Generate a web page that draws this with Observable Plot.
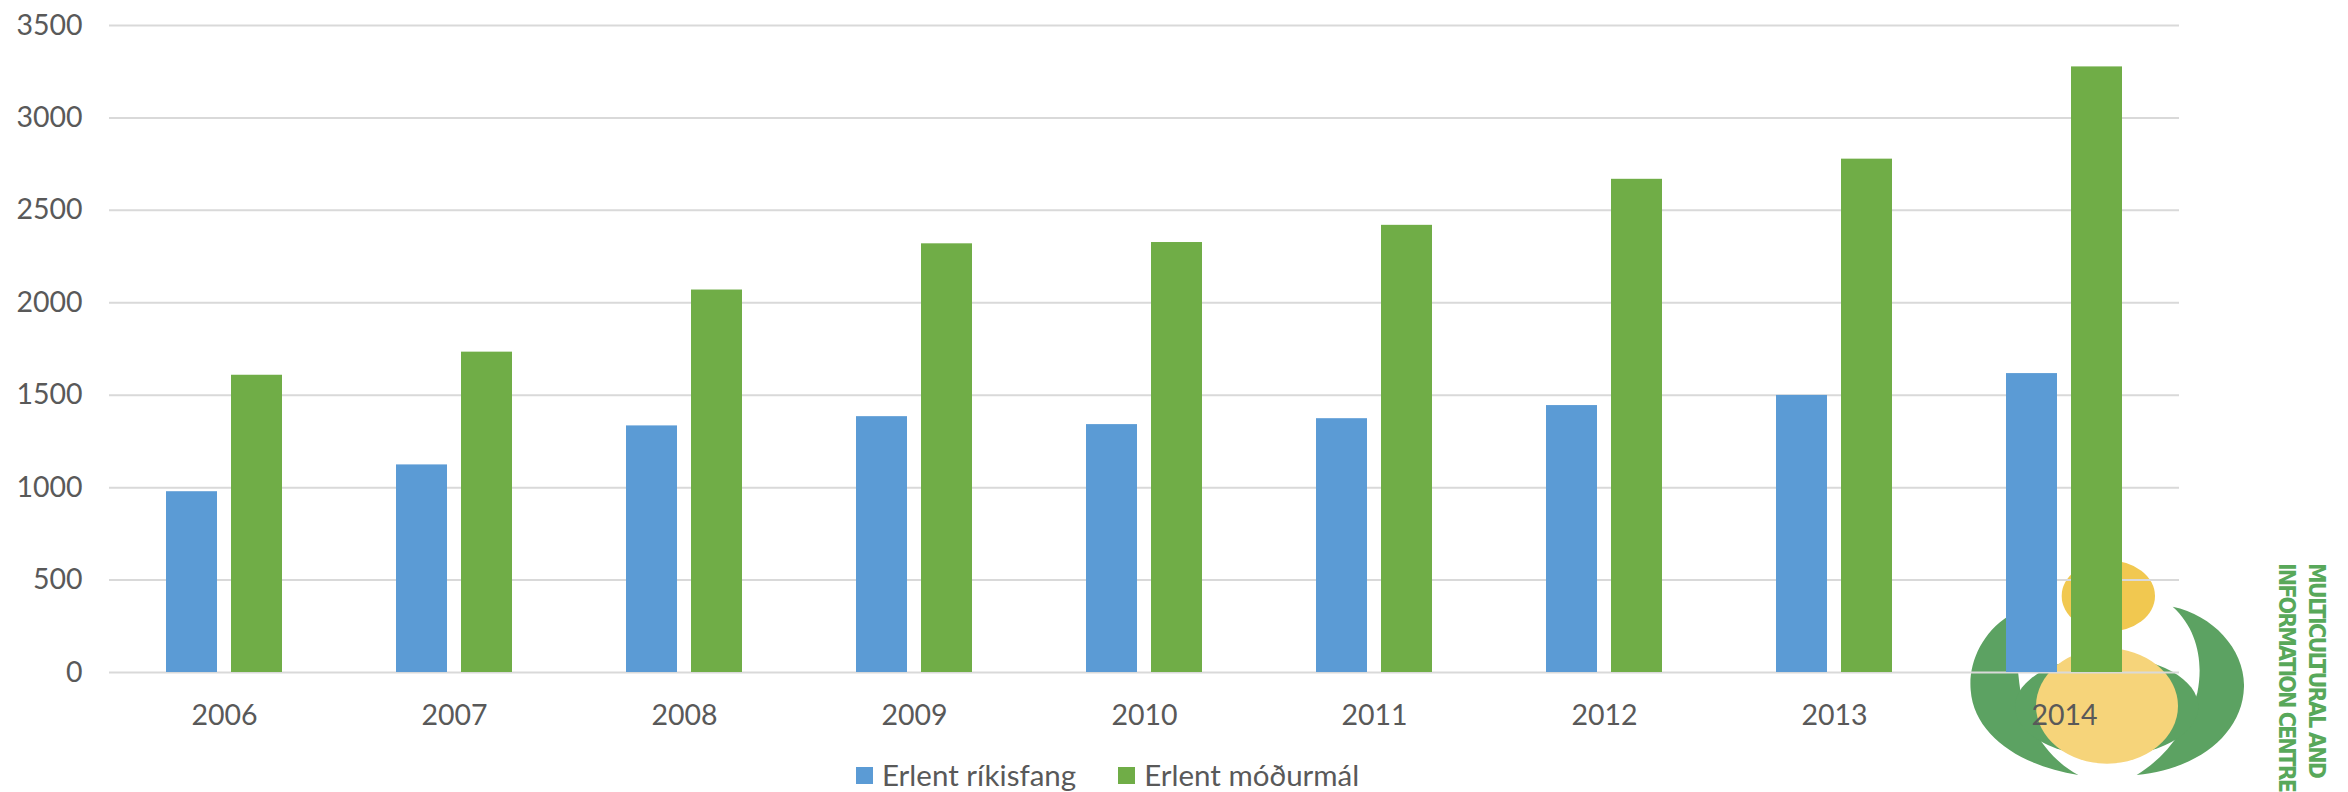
<!DOCTYPE html>
<html>
<head>
<meta charset="utf-8">
<script src="https://cdn.jsdelivr.net/npm/d3@7"></script>
<script src="https://cdn.jsdelivr.net/npm/@observablehq/plot@0.6"></script>
<style>
  html, body { margin: 0; padding: 0; background: #ffffff; }
  #wrap { position: relative; width: 2348px; height: 792px; overflow: hidden; font-family: Lato, sans-serif; background: #ffffff; }
  #logo { position: absolute; left: 0; top: 0; z-index: 0; }
  #chart { position: absolute; left: 0; top: 0; z-index: 1; }
  #legend { position: absolute; top: 758px; left: 856px; z-index: 2; display: flex; align-items: center;
            font-size: 29.5px; line-height: 34px; color: #595959; white-space: nowrap; }
  #legend .item { display: flex; align-items: center; margin-right: 42px; }
  #legend .sw { width: 17px; height: 17px; margin-right: 9px; display: inline-block; }
</style>
</head>
<body>
<div id="wrap">
  <svg id="logo" width="2348" height="792" xmlns="http://www.w3.org/2000/svg">
    <g transform="translate(1950,540) scale(0.33333)">
      <path fill="#5ca262" d="M 175 228 C 95 280, 55 370, 62 450 C 72 590, 220 680, 385 705 C 300 660, 235 570, 212 458 C 200 380, 200 300, 175 228 Z"/>
      <path fill="#5ca262" d="M 668 200 C 790 225, 885 330, 882 440 C 878 590, 730 690, 560 705 C 650 650, 715 560, 742 458 C 760 370, 745 270, 668 200 Z"/>
      <ellipse fill="#5ca262" cx="470" cy="500" rx="275" ry="150"/>
      <ellipse fill="#f6d47a" cx="471" cy="498" rx="213" ry="173"/>
      <ellipse fill="#f1c850" cx="475" cy="168" rx="140" ry="107"/>
    </g>
    <g fill="#58a85a" font-family="'Liberation Sans Narrow', 'DejaVu Sans Condensed', sans-serif" font-size="23" font-weight="bold">
      <text transform="translate(2309,563) rotate(90)" textLength="216" lengthAdjust="spacing">MULTICULTURAL  AND</text>
      <text transform="translate(2279,563) rotate(90)" textLength="230" lengthAdjust="spacing">INFORMATION CENTRE</text>
    </g>
  </svg>
  <div id="chart"></div>
  <div id="legend"></div>
</div>
<script>
// ---- data ----
const years = ["2006", "2007", "2008", "2009", "2010", "2011", "2012", "2013", "2014"];
const seriesNames = ["Erlent ríkisfang", "Erlent móðurmál"];
const rikisfang = [978, 1123, 1334, 1384, 1341, 1373, 1444, 1499, 1617];
const modurmal = [1608, 1733, 2069, 2319, 2326, 2419, 2668, 2777, 3276];
const yTicks = [0, 500, 1000, 1500, 2000, 2500, 3000, 3500];
const seriesColors = ["#5b9bd5", "#70ad47"];

const data = years.flatMap((yr, i) => [
  {year: yr, series: seriesNames[0], value: rikisfang[i]},
  {year: yr, series: seriesNames[1], value: modurmal[i]}
]);

const chart = Plot.plot({
  width: 2348,
  height: 745,
  marginLeft: 108,
  marginRight: 169,
  marginTop: 25,
  marginBottom: 73,
  style: {background: "transparent", fontFamily: "Lato, sans-serif", fontSize: "28.5px", color: "#595959", overflow: "visible"},
  fx: {domain: years, padding: 0, label: null},
  x: {domain: seriesNames, paddingInner: 0.214, paddingOuter: 0.855, axis: null},
  y: {domain: [0, 3500], label: null},
  color: {domain: seriesNames, range: seriesColors},
  marks: [
    Plot.gridY(yTicks, {stroke: "#d9d9d9", strokeOpacity: 1, strokeWidth: 2}),
    Plot.barY(data, {fx: "year", x: "series", y: "value", fill: "series"}),
    Plot.axisY(yTicks, {tickSize: 0, tickPadding: 27, label: null, fill: "#595959", tickFormat: d => String(d)}),
    Plot.axisFx({anchor: "bottom", tickSize: 0, tickPadding: 32, label: null, fill: "#595959"})
  ]
});
document.getElementById("chart").appendChild(chart);

// ---- legend ----
const legend = document.getElementById("legend");
seriesNames.forEach((name, i) => {
  const item = document.createElement("div");
  item.className = "item";
  const sw = document.createElement("span");
  sw.className = "sw";
  sw.style.background = seriesColors[i];
  const label = document.createElement("span");
  label.textContent = name;
  item.appendChild(sw);
  item.appendChild(label);
  legend.appendChild(item);
});
</script>
</body>
</html>
